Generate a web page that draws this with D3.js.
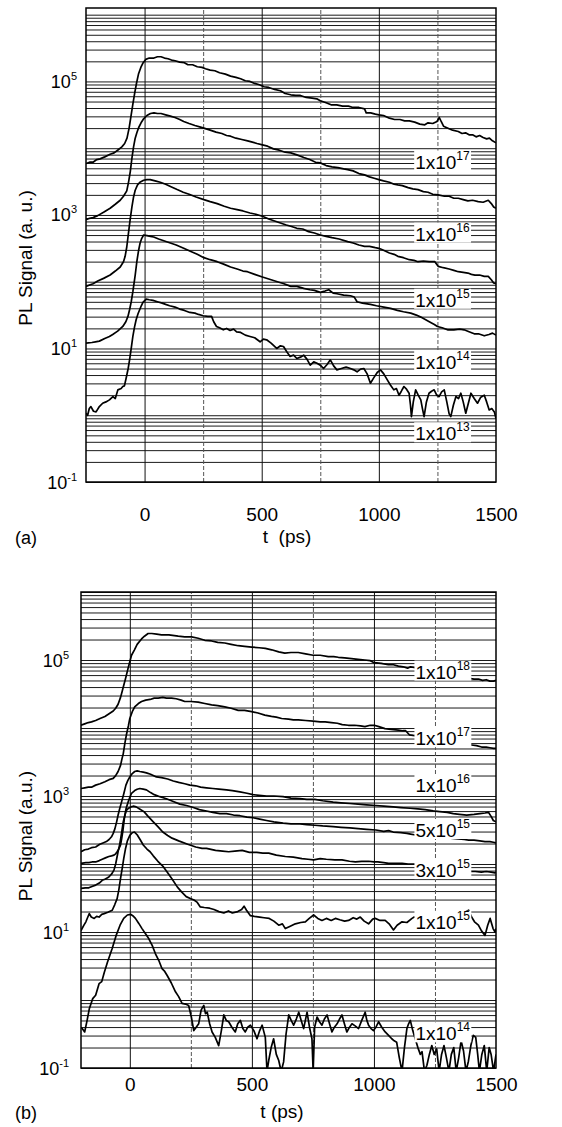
<!DOCTYPE html>
<html>
<head>
<meta charset="utf-8">
<script src="https://cdnjs.cloudflare.com/ajax/libs/d3/7.8.5/d3.min.js"></script>
<style>
  body { margin: 0; background: #fff; }
  svg { display: block; font-family: 'Liberation Sans', Arial, Helvetica, sans-serif; }
</style>
</head>
<body>
<script>
// each curve: [t (ps), log10 of PL signal (a.u.)]
let curveA17 = [[-250,3.77],[-235,3.79],[-220,3.79],[-204,3.83],[-190,3.84],[-170,3.87],[-147,3.91],[-130,3.93],[-115,3.97],[-97,4.02],[-85,4.07],[-75,4.15],[-66,4.30],[-58,4.48],[-50,4.66],[-42,4.83],[-34,4.98],[-26,5.11],[-16,5.21],[-6,5.28],[5,5.33],[20,5.35],[40,5.35],[55,5.37],[70,5.37],[85,5.35],[100,5.34],[115,5.32],[130,5.31],[150,5.29],[170,5.28],[185,5.25],[205,5.25],[225,5.22],[245,5.21],[260,5.19],[280,5.17],[300,5.16],[320,5.13],[345,5.11],[367,5.08],[390,5.06],[410,5.04],[430,5.01],[450,5.00],[470,4.97],[490,4.95],[510,4.92],[530,4.91],[555,4.88],[580,4.86],[600,4.82],[624,4.80],[645,4.79],[665,4.79],[690,4.76],[715,4.75],[735,4.74],[750,4.71],[775,4.68],[796,4.65],[820,4.65],[845,4.63],[870,4.63],[890,4.61],[915,4.61],[939,4.59],[946,4.53],[965,4.53],[985,4.51],[1000,4.50],[1020,4.49],[1045,4.45],[1067,4.43],[1090,4.43],[1110,4.41],[1130,4.41],[1153,4.39],[1175,4.36],[1196,4.35],[1210,4.38],[1230,4.37],[1248,4.40],[1258,4.46],[1266,4.40],[1276,4.33],[1295,4.30],[1315,4.27],[1339,4.25],[1355,4.22],[1370,4.23],[1385,4.20],[1400,4.20],[1415,4.17],[1430,4.19],[1445,4.16],[1460,4.14],[1472,4.15],[1485,4.11],[1500,4.08]];
let curveA16 = [[-250,2.93],[-235,2.95],[-220,2.96],[-200,2.99],[-175,3.04],[-147,3.10],[-125,3.16],[-104,3.22],[-90,3.28],[-76,3.36],[-68,3.50],[-61,3.65],[-54,3.85],[-47,4.02],[-40,4.15],[-33,4.23],[-25,4.31],[-15,4.38],[-4,4.44],[10,4.49],[25,4.52],[40,4.53],[55,4.52],[70,4.52],[90,4.50],[110,4.48],[130,4.46],[150,4.43],[167,4.40],[190,4.37],[215,4.34],[235,4.32],[253,4.30],[280,4.27],[305,4.24],[330,4.22],[350,4.19],[367,4.18],[390,4.15],[415,4.13],[440,4.11],[460,4.09],[480,4.07],[503,4.05],[525,4.03],[550,3.99],[575,3.97],[600,3.94],[624,3.93],[650,3.90],[680,3.86],[705,3.83],[730,3.79],[750,3.78],[775,3.74],[800,3.72],[825,3.71],[850,3.69],[867,3.68],[890,3.66],[915,3.62],[939,3.60],[960,3.57],[980,3.55],[1000,3.53],[1020,3.51],[1045,3.49],[1065,3.46],[1081,3.45],[1100,3.44],[1125,3.41],[1145,3.39],[1167,3.38],[1190,3.35],[1210,3.34],[1230,3.31],[1253,3.30],[1280,3.28],[1300,3.28],[1320,3.25],[1339,3.25],[1360,3.23],[1380,3.21],[1400,3.22],[1424,3.20],[1445,3.19],[1467,3.22],[1480,3.17],[1490,3.12],[1500,3.10]];
let curveA15 = [[-250,1.93],[-235,1.95],[-220,1.97],[-200,2.01],[-175,2.05],[-147,2.10],[-125,2.16],[-104,2.22],[-90,2.30],[-83,2.38],[-76,2.52],[-69,2.72],[-62,2.92],[-54,3.12],[-47,3.27],[-40,3.37],[-30,3.45],[-20,3.49],[-4,3.52],[10,3.53],[24,3.53],[45,3.51],[67,3.49],[90,3.46],[115,3.42],[139,3.38],[165,3.34],[190,3.31],[220,3.27],[253,3.23],[280,3.20],[310,3.17],[340,3.13],[367,3.10],[395,3.08],[420,3.06],[450,3.03],[475,3.01],[503,2.98],[530,2.94],[555,2.91],[580,2.88],[605,2.85],[624,2.83],[650,2.80],[675,2.79],[700,2.75],[725,2.73],[750,2.70],[775,2.68],[800,2.66],[830,2.64],[867,2.60],[890,2.58],[915,2.55],[939,2.53],[960,2.53],[985,2.51],[1000,2.50],[1020,2.47],[1045,2.43],[1065,2.41],[1081,2.38],[1105,2.36],[1130,2.33],[1150,2.32],[1167,2.30],[1190,2.31],[1215,2.30],[1239,2.30],[1253,2.23],[1275,2.21],[1300,2.19],[1320,2.17],[1339,2.15],[1360,2.14],[1380,2.13],[1395,2.11],[1410,2.10],[1430,2.10],[1450,2.08],[1467,2.08],[1480,2.03],[1490,1.98],[1500,1.97]];
let curveA14 = [[-250,1.08],[-225,1.09],[-210,1.10],[-193,1.11],[-170,1.15],[-150,1.18],[-136,1.21],[-115,1.26],[-93,1.33],[-80,1.40],[-71,1.48],[-64,1.58],[-57,1.70],[-50,1.85],[-46,1.95],[-40,2.10],[-33,2.30],[-26,2.46],[-19,2.58],[-12,2.65],[-4,2.70],[10,2.69],[25,2.68],[39,2.67],[60,2.64],[85,2.61],[110,2.58],[135,2.55],[167,2.50],[200,2.45],[225,2.41],[253,2.36],[280,2.33],[310,2.30],[340,2.26],[367,2.22],[395,2.19],[420,2.16],[439,2.15],[470,2.11],[503,2.07],[530,2.04],[567,2.00],[595,1.97],[624,1.93],[650,1.93],[679,1.90],[705,1.88],[725,1.87],[750,1.84],[770,1.86],[786,1.88],[805,1.83],[821,1.82],[850,1.80],[879,1.79],[895,1.77],[907,1.70],[930,1.68],[964,1.66],[990,1.64],[1021,1.62],[1050,1.60],[1079,1.57],[1105,1.55],[1136,1.53],[1160,1.50],[1179,1.47],[1200,1.43],[1221,1.39],[1237,1.36],[1250,1.33],[1270,1.31],[1293,1.28],[1320,1.28],[1345,1.29],[1364,1.28],[1385,1.25],[1407,1.22],[1425,1.22],[1450,1.19],[1470,1.21],[1485,1.23],[1500,1.20]];
let curveA13 = [[-250,0.03],[-243,0.00],[-236,0.10],[-229,0.13],[-218,0.06],[-207,0.05],[-193,0.13],[-179,0.18],[-165,0.20],[-150,0.23],[-135,0.28],[-125,0.25],[-114,0.38],[-100,0.40],[-93,0.43],[-86,0.44],[-79,0.55],[-70,0.70],[-64,0.83],[-57,1.00],[-50,1.18],[-43,1.32],[-36,1.43],[-28,1.52],[-21,1.58],[-14,1.64],[-7,1.69],[7,1.74],[20,1.73],[36,1.72],[55,1.70],[75,1.68],[90,1.66],[107,1.64],[130,1.62],[150,1.59],[170,1.57],[193,1.54],[215,1.53],[230,1.51],[250,1.49],[270,1.48],[286,1.48],[295,1.40],[307,1.33],[320,1.31],[336,1.28],[350,1.30],[365,1.27],[380,1.29],[393,1.25],[410,1.24],[430,1.20],[450,1.18],[470,1.16],[493,1.10],[507,1.14],[521,1.13],[540,1.08],[564,1.00],[580,1.04],[593,1.03],[607,0.95],[621,0.88],[636,0.90],[650,0.85],[665,0.87],[679,0.90],[693,0.84],[707,0.75],[722,0.80],[736,0.78],[750,0.75],[764,0.70],[779,0.76],[793,0.83],[807,0.74],[821,0.68],[840,0.70],[860,0.72],[879,0.70],[893,0.68],[907,0.65],[922,0.69],[936,0.70],[950,0.62],[964,0.48],[978,0.56],[993,0.64],[1007,0.68],[1021,0.62],[1036,0.53],[1050,0.45],[1064,0.38],[1075,0.40],[1086,0.30],[1096,0.36],[1107,0.43],[1118,0.39],[1129,0.33],[1135,0.15],[1139,-0.02],[1147,0.20],[1157,0.38],[1168,0.30],[1179,0.23],[1186,0.10],[1193,-0.02],[1203,0.20],[1214,0.33],[1225,0.36],[1236,0.38],[1247,0.30],[1257,0.28],[1268,0.35],[1279,0.38],[1290,0.20],[1300,0.02],[1307,-0.02],[1318,0.15],[1329,0.28],[1340,0.25],[1350,0.33],[1360,0.20],[1371,0.03],[1382,0.18],[1393,0.33],[1407,0.25],[1421,0.18],[1435,0.27],[1450,0.30],[1460,0.20],[1471,0.08],[1482,0.10],[1493,0.05],[1500,-0.05]];

let curveB18 = [[-200,4.04],[-185,4.06],[-170,4.08],[-157,4.09],[-140,4.11],[-122,4.14],[-102,4.17],[-85,4.21],[-68,4.25],[-58,4.29],[-48,4.35],[-38,4.45],[-32,4.53],[-27,4.60],[-18,4.72],[-7,4.88],[7,5.07],[19,5.15],[30,5.23],[48,5.31],[60,5.35],[75,5.39],[90,5.39],[110,5.38],[130,5.37],[160,5.37],[198,5.35],[225,5.34],[253,5.34],[280,5.32],[307,5.29],[335,5.28],[360,5.26],[389,5.25],[415,5.23],[444,5.21],[470,5.20],[499,5.19],[530,5.18],[555,5.17],[581,5.15],[610,5.12],[635,5.10],[660,5.11],[690,5.11],[720,5.09],[751,5.07],[780,5.07],[813,5.05],[835,5.05],[854,5.04],[880,5.03],[908,5.02],[935,5.01],[963,5.00],[985,4.99],[1001,4.96],[1030,4.95],[1059,4.93],[1080,4.93],[1100,4.91],[1120,4.90],[1138,4.88],[1150,4.90],[1165,4.89],[1330,4.76],[1345,4.75],[1360,4.74],[1373,4.73],[1390,4.73],[1410,4.72],[1428,4.72],[1445,4.70],[1460,4.71],[1475,4.69],[1490,4.69],[1500,4.70]];
let curveB17 = [[-200,3.11],[-185,3.12],[-170,3.13],[-157,3.13],[-140,3.16],[-122,3.18],[-102,3.21],[-85,3.24],[-68,3.26],[-58,3.30],[-48,3.36],[-38,3.45],[-32,3.55],[-27,3.62],[-20,3.78],[-14,3.90],[-6,4.03],[0,4.14],[10,4.24],[20,4.31],[35,4.36],[48,4.39],[65,4.41],[83,4.42],[100,4.44],[116,4.44],[135,4.45],[150,4.44],[171,4.44],[190,4.43],[210,4.41],[225,4.39],[250,4.39],[280,4.38],[307,4.36],[335,4.34],[360,4.33],[389,4.31],[415,4.29],[444,4.26],[470,4.26],[499,4.24],[525,4.22],[553,4.19],[580,4.17],[600,4.16],[622,4.14],[650,4.13],[670,4.12],[690,4.12],[720,4.11],[751,4.10],[780,4.09],[800,4.09],[826,4.08],[850,4.07],[870,4.05],[895,4.04],[920,4.04],[945,4.03],[963,4.02],[985,4.04],[1001,4.04],[1020,4.02],[1045,3.99],[1070,3.98],[1100,3.97],[1118,3.96],[1130,3.96],[1145,3.90],[1160,3.89],[1345,3.80],[1360,3.77],[1380,3.76],[1400,3.75],[1420,3.74],[1441,3.72],[1460,3.72],[1475,3.71],[1490,3.70],[1500,3.70]];
let curveB16 = [[-200,2.18],[-185,2.21],[-170,2.22],[-157,2.24],[-140,2.25],[-123,2.29],[-110,2.31],[-96,2.33],[-85,2.36],[-75,2.40],[-68,2.45],[-61,2.52],[-54,2.62],[-48,2.72],[-41,2.82],[-34,2.91],[-25,3.03],[-16,3.16],[-8,3.23],[0,3.28],[10,3.33],[20,3.36],[30,3.37],[41,3.36],[55,3.35],[68,3.34],[85,3.32],[109,3.28],[130,3.27],[155,3.25],[178,3.22],[200,3.20],[225,3.18],[246,3.16],[270,3.15],[290,3.13],[314,3.12],[340,3.11],[365,3.10],[396,3.09],[420,3.08],[451,3.06],[480,3.04],[505,3.02],[530,3.01],[560,3.00],[590,3.00],[628,2.99],[660,2.97],[697,2.96],[725,2.95],[758,2.95],[790,2.93],[833,2.91],[865,2.90],[902,2.89],[935,2.88],[970,2.87],[1008,2.86],[1040,2.85],[1079,2.84],[1110,2.83],[1148,2.82],[1180,2.81],[1210,2.80],[1243,2.78],[1270,2.77],[1300,2.76],[1325,2.74],[1350,2.73],[1380,2.72],[1410,2.73],[1434,2.74],[1455,2.75],[1469,2.76],[1480,2.70],[1489,2.64],[1500,2.62]];
let curveB5e15 = [[-200,2.01],[-180,2.02],[-168,2.02],[-155,2.03],[-140,2.03],[-125,2.05],[-113,2.07],[-100,2.09],[-86,2.11],[-75,2.12],[-65,2.13],[-58,2.15],[-52,2.18],[-45,2.22],[-38,2.28],[-33,2.38],[-28,2.50],[-22,2.68],[-15,2.82],[-7,2.91],[0,2.98],[7,3.04],[20,3.08],[30,3.10],[41,3.11],[55,3.10],[68,3.09],[85,3.05],[100,3.02],[123,2.99],[150,2.96],[178,2.92],[205,2.88],[232,2.86],[260,2.83],[285,2.80],[314,2.78],[340,2.76],[369,2.74],[396,2.74],[425,2.72],[451,2.71],[480,2.69],[505,2.68],[532,2.66],[560,2.64],[590,2.62],[628,2.60],[660,2.59],[697,2.59],[725,2.58],[758,2.57],[790,2.56],[833,2.55],[865,2.54],[902,2.53],[935,2.52],[970,2.51],[1008,2.50],[1040,2.48],[1060,2.49],[1079,2.47],[1110,2.46],[1135,2.45],[1150,2.44],[1165,2.43],[1345,2.37],[1370,2.36],[1388,2.35],[1410,2.35],[1434,2.34],[1455,2.33],[1475,2.33],[1489,2.32],[1500,2.31]];
let curveB3e15 = [[-200,1.64],[-182,1.65],[-168,1.65],[-155,1.67],[-140,1.69],[-125,1.72],[-113,1.76],[-100,1.78],[-86,1.81],[-75,1.85],[-65,1.91],[-58,2.00],[-52,2.11],[-47,2.20],[-42,2.28],[-38,2.36],[-34,2.45],[-27,2.62],[-20,2.72],[-14,2.79],[-5,2.82],[5,2.84],[14,2.85],[26,2.84],[40,2.81],[58,2.77],[75,2.70],[96,2.62],[115,2.55],[135,2.47],[155,2.42],[173,2.38],[200,2.34],[237,2.29],[270,2.25],[296,2.23],[314,2.23],[351,2.20],[380,2.19],[405,2.18],[430,2.19],[460,2.20],[490,2.17],[520,2.17],[545,2.16],[569,2.16],[600,2.13],[637,2.11],[670,2.10],[705,2.08],[730,2.07],[753,2.06],[780,2.08],[805,2.07],[840,2.06],[869,2.06],[900,2.04],[924,2.03],[950,2.04],[978,2.04],[1000,2.03],[1016,2.03],[1040,2.02],[1060,2.01],[1090,2.01],[1115,2.01],[1140,2.00],[1165,2.00],[1345,1.93],[1360,1.91],[1380,1.90],[1400,1.89],[1415,1.89],[1440,1.88],[1460,1.89],[1480,1.88],[1496,1.87],[1500,1.88]];
let curveB15 = [[-200,1.02],[-188,1.10],[-180,1.15],[-172,1.22],[-166,1.27],[-158,1.22],[-146,1.20],[-136,1.23],[-126,1.22],[-115,1.26],[-105,1.27],[-90,1.29],[-72,1.32],[-62,1.40],[-52,1.49],[-45,1.62],[-38,1.79],[-31,1.94],[-25,2.08],[-18,2.22],[-10,2.34],[0,2.42],[10,2.46],[19,2.47],[30,2.43],[42,2.36],[55,2.28],[70,2.22],[83,2.18],[96,2.12],[115,2.04],[135,1.97],[155,1.87],[173,1.78],[195,1.66],[212,1.59],[231,1.52],[250,1.49],[263,1.47],[275,1.44],[288,1.37],[305,1.36],[327,1.35],[345,1.33],[365,1.30],[385,1.28],[404,1.31],[420,1.28],[442,1.30],[458,1.33],[468,1.38],[478,1.32],[494,1.24],[510,1.23],[532,1.22],[550,1.21],[571,1.20],[590,1.16],[610,1.10],[625,1.12],[637,1.05],[655,1.08],[678,1.12],[700,1.14],[719,1.15],[735,1.20],[753,1.25],[770,1.20],[787,1.17],[805,1.20],[825,1.17],[842,1.20],[860,1.18],[880,1.16],[896,1.17],[915,1.21],[930,1.19],[944,1.22],[960,1.16],[978,1.12],[995,1.19],[1005,1.20],[1025,1.17],[1046,1.17],[1062,1.12],[1080,1.03],[1095,1.10],[1115,1.15],[1135,1.14],[1156,1.20],[1165,1.22],[1355,1.22],[1367,1.25],[1378,1.30],[1388,1.32],[1400,1.22],[1412,1.15],[1428,1.10],[1440,1.02],[1455,0.95],[1466,1.10],[1476,1.20],[1488,1.05],[1496,1.00],[1500,1.05]];
let curveB14 = [[-200,-0.40],[-195,-0.42],[-185,-0.47],[-175,-0.30],[-166,-0.13],[-152,0.02],[-140,0.07],[-126,0.24],[-115,0.27],[-105,0.40],[-92,0.55],[-72,0.76],[-56,0.95],[-40,1.10],[-25,1.20],[-10,1.25],[3,1.26],[12,1.24],[23,1.20],[36,1.13],[50,1.05],[65,0.97],[78,0.90],[92,0.80],[105,0.68],[120,0.57],[132,0.46],[143,0.42],[153,0.36],[170,0.25],[187,0.12],[200,0.05],[214,-0.05],[228,-0.06],[241,-0.08],[252,-0.25],[262,-0.45],[272,-0.40],[282,-0.35],[292,-0.15],[303,-0.08],[310,-0.20],[317,-0.18],[327,-0.35],[337,-0.47],[350,-0.55],[364,-0.67],[375,-0.45],[385,-0.22],[395,-0.30],[405,-0.32],[418,-0.40],[432,-0.47],[442,-0.35],[453,-0.30],[463,-0.42],[473,-0.47],[483,-0.40],[494,-0.37],[508,-0.45],[521,-0.57],[532,-0.45],[542,-0.37],[555,-0.55],[562,-1.05],[569,-0.89],[579,-0.70],[589,-0.57],[600,-0.80],[610,-0.89],[620,-1.05],[630,-0.91],[640,-0.50],[651,-0.22],[661,-0.30],[671,-0.37],[682,-0.28],[692,-0.18],[702,-0.30],[712,-0.42],[719,-0.30],[726,-0.18],[736,-0.40],[746,-0.57],[751,-1.05],[757,-0.40],[767,-0.25],[777,-0.32],[787,-0.37],[797,-0.28],[808,-0.22],[818,-0.35],[828,-0.47],[838,-0.40],[849,-0.35],[859,-0.28],[869,-0.22],[879,-0.35],[889,-0.47],[900,-0.40],[910,-0.35],[923,-0.38],[937,-0.42],[950,-0.30],[964,-0.18],[971,-0.30],[978,-0.37],[988,-0.42],[998,-0.45],[1008,-0.40],[1019,-0.32],[1032,-0.40],[1046,-0.47],[1060,-0.52],[1073,-0.57],[1083,-0.60],[1093,-0.62],[1104,-0.85],[1115,-1.05],[1125,-0.70],[1135,-0.42],[1142,-0.35],[1149,-0.30],[1159,-0.45],[1169,-0.57],[1180,-0.70],[1190,-0.80],[1197,-0.76],[1207,-1.05],[1217,-0.96],[1227,-0.80],[1237,-0.67],[1247,-0.80],[1257,-0.72],[1267,-1.05],[1277,-0.80],[1287,-0.67],[1297,-0.85],[1307,-1.05],[1317,-0.80],[1327,-0.70],[1337,-1.05],[1347,-0.85],[1357,-0.60],[1367,-0.75],[1377,-1.05],[1387,-0.90],[1397,-0.67],[1407,-0.52],[1417,-0.55],[1425,-0.80],[1432,-1.05],[1442,-0.80],[1452,-0.67],[1462,-1.05],[1472,-0.70],[1480,-0.80],[1490,-1.05],[1500,-0.80]];

// curve labels: mantissa text, exponent, anchor (t, log10 signal) of the label centre-left
let labelsA = [
  { pre: '1x10', exp: '17', t: 1155, logS: 3.80 },
  { pre: '1x10', exp: '16', t: 1155, logS: 2.72 },
  { pre: '1x10', exp: '15', t: 1155, logS: 1.73 },
  { pre: '1x10', exp: '14', t: 1155, logS: 0.80 },
  { pre: '1x10', exp: '13', t: 1155, logS: -0.27 }
];
let labelsB = [
  { pre: '1x10', exp: '18', t: 1170, logS: 4.83 },
  { pre: '1x10', exp: '17', t: 1170, logS: 3.85 },
  { pre: '1x10', exp: '16', t: 1170, logS: 3.16 },
  { pre: '5x10', exp: '15', t: 1170, logS: 2.50 },
  { pre: '3x10', exp: '15', t: 1170, logS: 1.91 },
  { pre: '1x10', exp: '15', t: 1170, logS: 1.15 },
  { pre: '1x10', exp: '14', t: 1170, logS: -0.49 }
];

let xTicks = [0, 500, 1000, 1500];
let yTickExps = [-1, 1, 3, 5];
let gridTimesA = [0, 250, 500, 750, 1000, 1250];
let gridTimesB = [0, 250, 500, 750, 1000, 1250];

let width = 562,
    height = 1127;

let svg = d3.select('body')
            .append('svg')
            .attr('width', width)
            .attr('height', height);

function drawPanel(p) {
  let xScale = d3.scaleLinear()
                 .domain(p.tDomain)
                 .range([p.left, p.right]);

  let yScale = d3.scaleLog()
                 .domain(p.sDomain)
                 .range([p.bottom, p.top]);

  let g = svg.append('g');

  svg.append('clipPath')
     .attr('id', 'clip-' + p.tag)
     .append('rect')
     .attr('x', p.left)
     .attr('y', p.top)
     .attr('width', p.right - p.left)
     .attr('height', p.bottom - p.top);

  // log grid (all 1..9 x 10^n lines)
  let hGrid = d3.axisLeft(yScale)
                .tickSize(-(p.right - p.left))
                .tickFormat('');
  g.append('g')
   .attr('transform', `translate(${p.left}, 0)`)
   .call(hGrid)
   .call(s => s.select('.domain').remove())
   .selectAll('line')
   .attr('stroke', '#1a1a1a')
   .attr('stroke-width', 1);

  let vGrid = d3.axisBottom(xScale)
                .tickValues(p.gridTimes)
                .tickSize(-(p.bottom - p.top))
                .tickFormat('');
  g.append('g')
   .attr('transform', `translate(0, ${p.bottom})`)
   .call(vGrid)
   .call(s => s.select('.domain').remove())
   .selectAll('line')
   .attr('stroke', d => d % 500 === 0 ? '#111' : '#555')
   .attr('stroke-dasharray', d => d % 500 === 0 ? null : '4,2')
   .attr('stroke-width', 1);

  let line = d3.line()
               .x(d => xScale(d[0]))
               .y(d => yScale(Math.pow(10, d[1])));

  g.append('g')
   .attr('clip-path', `url(#clip-${p.tag})`)
   .selectAll('path')
   .data(p.curves)
   .enter()
   .append('path')
   .attr('d', line)
   .attr('fill', 'none')
   .attr('stroke', '#000')
   .attr('stroke-width', 1.7)
   .attr('stroke-linejoin', 'round');

  // curve labels on white boxes
  let labs = g.append('g')
              .selectAll('g')
              .data(p.labels)
              .enter()
              .append('g');

  labs.each(function(d) {
    let lg = d3.select(this);
    let txt = lg.append('text')
                .attr('x', xScale(d.t))
                .attr('y', yScale(Math.pow(10, d.logS)) + 7)
                .style('font-size', '19px')
                .attr('fill', '#000');
    txt.append('tspan').text(d.pre);
    txt.append('tspan')
       .attr('dy', -9)
       .style('font-size', '12px')
       .text(d.exp);
    let bb = txt.node().getBBox();
    lg.insert('rect', 'text')
      .attr('x', bb.x - 1)
      .attr('y', bb.y + 2)
      .attr('width', bb.width + 2)
      .attr('height', bb.height - 4)
      .attr('fill', '#fff');
  });

  // frame
  g.append('rect')
   .attr('x', p.left)
   .attr('y', p.top)
   .attr('width', p.right - p.left)
   .attr('height', p.bottom - p.top)
   .attr('fill', 'none')
   .attr('stroke', '#000')
   .attr('stroke-width', 1.5);

  // x tick labels
  let xAxis = d3.axisBottom(xScale)
                .tickValues(xTicks)
                .tickSize(0)
                .tickPadding(p.xTickPad)
                .tickFormat(d3.format('d'));
  g.append('g')
   .attr('transform', `translate(0, ${p.bottom})`)
   .call(xAxis)
   .call(s => s.select('.domain').remove())
   .selectAll('text')
   .style('font-size', '19px')
   .style('font-family', "'Liberation Sans', Arial, sans-serif")
   .attr('fill', '#000');

  // y tick labels 10^n
  let yl = g.append('g')
            .selectAll('text')
            .data(yTickExps)
            .enter()
            .append('text')
            .attr('x', p.left - p.yTickGap)
            .attr('y', e => yScale(Math.pow(10, e)) + 6.5)
            .attr('text-anchor', 'end')
            .style('font-size', '18px');
  yl.append('tspan').text('10');
  yl.append('tspan')
    .attr('dy', -8)
    .style('font-size', '11px')
    .text(e => e);

  g.append('text')
   .attr('transform', `translate(32, ${(p.top + p.bottom) / 2 + p.yTitleShift}) rotate(-90)`)
   .attr('text-anchor', 'middle')
   .style('font-size', '19px')
   .text(p.yTitle);

  g.append('text')
   .attr('x', p.xTitleX)
   .attr('y', p.xTitleY)
   .attr('text-anchor', 'middle')
   .style('font-size', '19px')
   .style('white-space', 'pre')
   .attr('xml:space', 'preserve')
   .text(p.xTitle);

  g.append('text')
   .attr('x', 15)
   .attr('y', p.xTitleY + 1)
   .style('font-size', '18px')
   .text(p.tag === 'a' ? '(a)' : '(b)');
}

drawPanel({
  tag: 'a',
  left: 86, right: 496, top: 8, bottom: 482,
  tDomain: [-250, 1500],
  sDomain: [0.1, Math.pow(10, 6.1)],
  gridTimes: gridTimesA,
  curves: [curveA17, curveA16, curveA15, curveA14, curveA13],
  labels: labelsA,
  xTickPad: 26,
  yTickGap: 9,
  yTitle: 'PL Signal (a. u.)',
  yTitleShift: 13,
  xTitle: 't  (ps)',
  xTitleX: 287,
  xTitleY: 543
});

drawPanel({
  tag: 'b',
  left: 81, right: 496, top: 592, bottom: 1068,
  tDomain: [-200, 1500],
  sDomain: [0.1, 1e6],
  gridTimes: gridTimesB,
  curves: [curveB18, curveB17, curveB16, curveB5e15, curveB3e15, curveB15, curveB14],
  labels: labelsB,
  xTickPad: 10,
  yTickGap: 12,
  yTitle: 'PL Signal (a.u.)',
  yTitleShift: 6,
  xTitle: 't (ps)',
  xTitleX: 282,
  xTitleY: 1118
});
</script>
</body>
</html>
